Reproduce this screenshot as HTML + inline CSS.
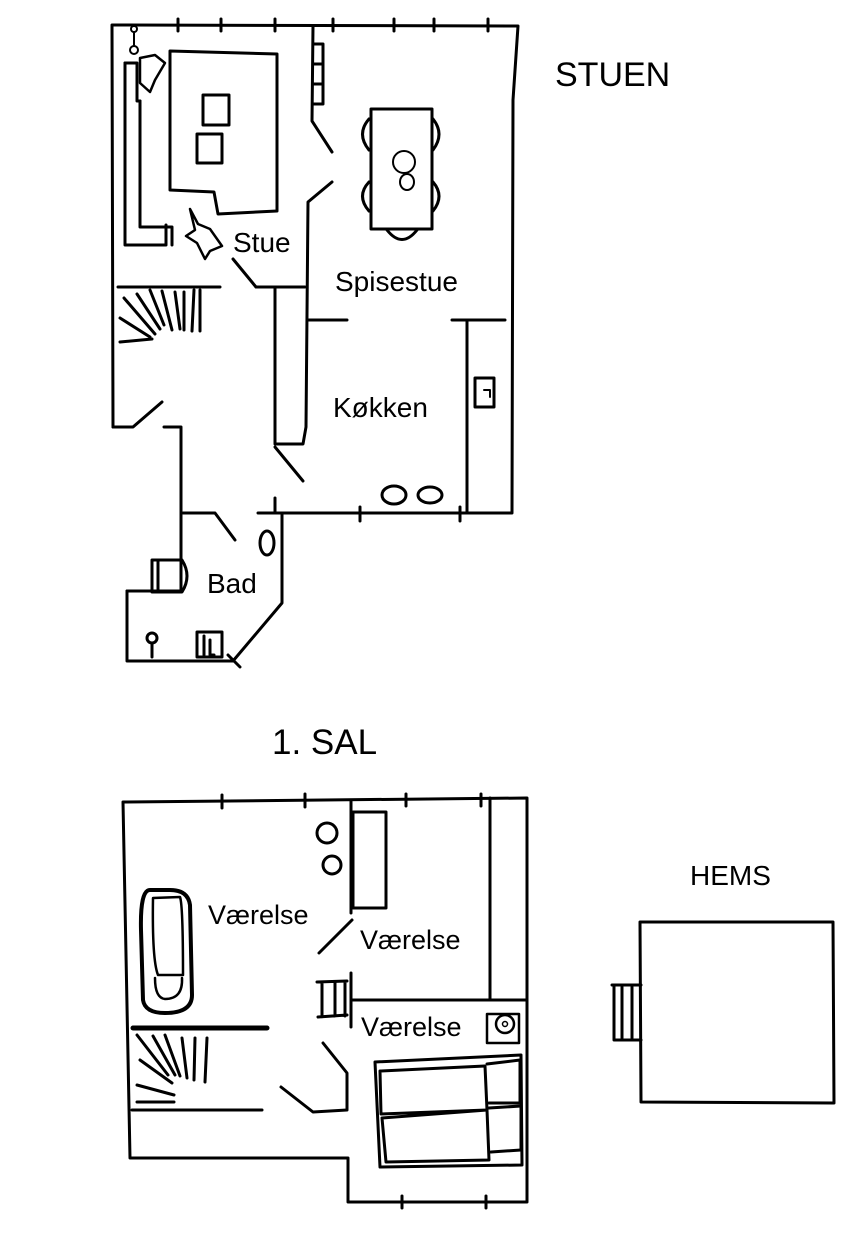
<!DOCTYPE html>
<html><head><meta charset="utf-8"><style>
html,body{margin:0;padding:0;background:#fff;}
svg{display:block;}
text{font-family:"Liberation Sans",sans-serif;fill:#000;}
</style></head><body>
<svg width="860" height="1240" viewBox="0 0 860 1240" xmlns="http://www.w3.org/2000/svg">
<g fill="none" stroke="#000" stroke-width="3" stroke-linecap="round" stroke-linejoin="round">
<path d="M113,427 L112,25 L518,26 L513,100 L512,513 L258,513"/>
<path d="M113,427 L133,427 L162,402"/>
<path d="M164,427 L181,427 L181,591"/>
<path d="M127,591 L182,591"/>
<path d="M127,591 L127,661 L233,661 L282,603 L282,513"/>
<path d="M183,513 L215,513 L235,540"/>
<path d="M275,498 L275,513"/>
<path d="M178,19 L178,31 M221,19 L221,31 M275,19 L275,31 M333,19 L333,31 M394,19 L394,31 M434,19 L434,31 M488,19 L488,31"/>
<path d="M360,507 L360,521 M460,507 L460,521 M228,655 L240,667"/>
<path d="M313,26 L312,121 L332,152"/>
<path d="M313,44 L323,44 L323,104 L313,104 M313,64 L323,64 M313,84 L323,84"/>
<path d="M332,182 L308,202 L306,427 L303,444 L275,444 L275,287 L256,287 L233,259"/>
<path d="M256,287 L305,287"/>
<path d="M275,447 L303,481"/>
<path d="M307,320 L347,320 M452,320 L505,320"/>
<path d="M467,320 L467,513"/>
<rect x="475" y="378" width="19" height="29"/>
<path d="M484,390 L490,390 L490,397" stroke-width="2"/>
<path d="M125,63 L125,245 L166,245 L166,225"/>
<path d="M140,101 L140,227 L172,227 L172,245"/>
<path d="M125,63 L137,63 L137,101 L140,101"/>
<path d="M170,51 L277,54 L277,211 L218,214 L214,192 L170,190 Z"/>
<rect x="203" y="95" width="26" height="30"/>
<rect x="197" y="134" width="25" height="29"/>
<path d="M140,58 L155,55 L165,63 L155,80 L150,92 L140,83 Z" stroke-width="2.5"/>
<path d="M190,209 L198,224 L210,229 L222,246 L210,251 L205,259 L197,243 L186,236 L195,230 Z" stroke-width="2.5"/>
<circle cx="134" cy="29" r="3" stroke-width="2"/><path d="M134,33 L134,45" stroke-width="2"/><circle cx="134" cy="50" r="4" stroke-width="2"/>
<rect x="371" y="109" width="61" height="120"/>
<ellipse cx="404" cy="162" rx="11" ry="11" stroke-width="2"/>
<ellipse cx="407" cy="182" rx="7" ry="8" stroke-width="2"/>
<path d="M369,119 Q356,134 369,150 M369,182 Q356,196 369,211 M433,119 Q445,134 433,150 M433,182 Q445,196 433,211 M387,230 Q402,249 417,230"/>
<path d="M118,287 L220,287"/>
<path d="M120,342 L152,339 M124,298 L155,334 M137,294 L160,329 M150,290 L164,325 M162,291 L172,330 M175,292 L180,329 M184,292 L184,330 M194,290 L192,331 M200,290 L200,331 M120,318 L150,337"/>
<ellipse cx="394" cy="495" rx="12" ry="9"/>
<ellipse cx="430" cy="495" rx="12" ry="8"/>
<ellipse cx="267" cy="543" rx="7" ry="12"/>
<path d="M152,560 L152,592 L182,592 Q192,576 182,560 Z M158,560 L158,590"/>
<circle cx="152" cy="638" r="5"/><path d="M152,643 L152,657"/>
<rect x="197" y="632" width="25" height="25"/>
<path d="M204,636 L204,655 M210,640 L210,655 L214,655"/>
<!-- 1. SAL -->
<path d="M123,802 L527,798 L527,1202 L348,1202 L348,1158 L130,1158 L123,802"/>
<path d="M222,795 L222,808 M305,794 L305,807 M406,794 L406,806 M481,794 L481,806 M402,1196 L402,1208 M486,1196 L486,1208"/>
<path d="M351,800 L351,913 M490,798 L490,1000 M351,1000 L527,1000 M351,973 L351,1027"/>
<rect x="353" y="812" width="33" height="96"/>
<circle cx="327" cy="833" r="10"/><circle cx="332" cy="865" r="9"/>
<path d="M319,953 L352,920"/>
<path d="M317,982 L347,981 M318,1017 L347,1015 M322,982 L322,1017 M335,982 L335,1016 M345,982 L345,1016"/>
<path d="M323,1043 L347,1073 L347,1110 L313,1112 L281,1087"/>
<path d="M133,1028 L267,1028" stroke-width="5"/>
<path d="M132,1110 L262,1110"/>
<path d="M137,1035 L168,1075 M165,1035 L180,1076 M182,1038 L187,1078 M195,1038 L194,1080 M207,1038 L205,1082 M140,1060 L172,1083 M137,1085 L174,1095 M137,1102 L174,1102 M153,1036 L175,1075"/>
<path d="M150,890 Q140,890 141,930 L143,1000 Q145,1013 165,1013 Q192,1013 192,995 L190,905 Q188,890 170,890 Z" stroke-width="4"/>
<path d="M153,898 L180,897 Q183,905 183,975 L158,975 Q152,960 153,898 Z M155,978 Q155,998 165,999 Q183,999 182,978" stroke-width="2.5"/>
<rect x="487" y="1014" width="32" height="29" stroke-width="2.5"/>
<circle cx="505" cy="1024" r="9" stroke-width="2.5"/><circle cx="505" cy="1024" r="2.5" stroke-width="1.5"/>
<path d="M375,1062 L521,1055 L522,1165 L380,1167 Z"/>
<path d="M380,1071 L485,1066 L487,1110 L381,1114 Z M382,1118 L487,1110 L489,1160 L386,1162 Z"/>
<path d="M487,1064 L520,1060 L520,1103 L489,1103 M489,1108 L521,1106 L521,1150 L491,1152"/>
<path d="M640,922 L833,922 L834,1103 L641,1102 Z"/>
<path d="M612,985 L641,985 M614,1040 L641,1040 M614,985 L614,1040 M622,987 L622,1038 M632,987 L632,1038"/>
</g>
<text x="555" y="86" font-size="34">STUEN</text>
<text x="233" y="252" font-size="28">Stue</text>
<text x="335" y="291" font-size="28">Spisestue</text>
<text x="333" y="417" font-size="28">Køkken</text>
<text x="207" y="593" font-size="28">Bad</text>
<text x="272" y="754" font-size="35">1. SAL</text>
<text x="690" y="885" font-size="28">HEMS</text>
<text x="208" y="924" font-size="27">Værelse</text>
<text x="360" y="949" font-size="27">Værelse</text>
<text x="361" y="1036" font-size="27">Værelse</text>
</svg>
</body></html>
